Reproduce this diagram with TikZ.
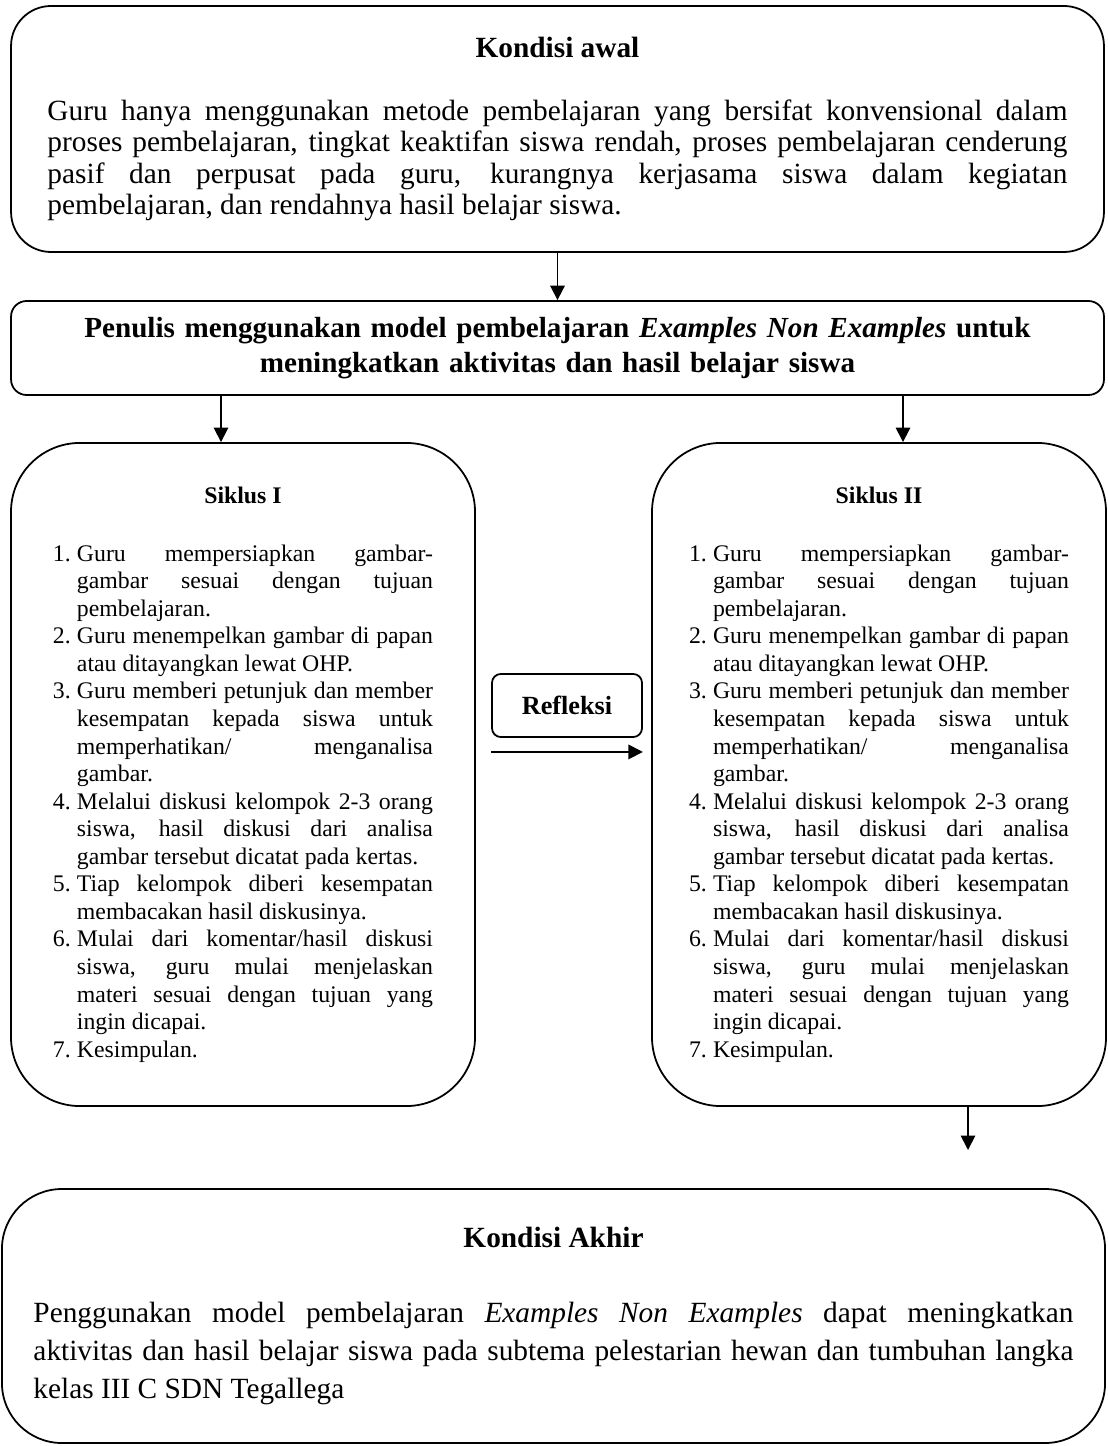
\documentclass[tikz,border=0pt]{standalone}
\usepackage{fontspec}
\setmainfont{Liberation Serif}
\usetikzlibrary{arrows.meta}
\newcommand{\butir}[1]{\par\noindent\hangindent=10.8pt\hangafter=1\makebox[10.8pt][l]{#1}}
\newcommand{\langkah}{%
  \butir{1.}Guru mempersiapkan gambar-\linebreak gambar sesuai dengan tujuan\linebreak pembelajaran.
  \butir{2.}Guru menempelkan gambar di papan\linebreak atau ditayangkan lewat OHP.
  \butir{3.}Guru memberi petunjuk dan member\linebreak kesempatan kepada siswa untuk\linebreak memperhatikan/ menganalisa\linebreak gambar.
  \butir{4.}Melalui diskusi kelompok 2-3 orang\linebreak siswa, hasil diskusi dari analisa\linebreak gambar tersebut dicatat pada kertas.
  \butir{5.}Tiap kelompok diberi kesempatan\linebreak membacakan hasil diskusinya.
  \butir{6.}Mulai dari komentar/hasil diskusi\linebreak siswa, guru mulai menjelaskan\linebreak materi sesuai dengan tujuan yang\linebreak ingin dicapai.
  \butir{7.}Kesimpulan.\par}

\begin{document}
\begin{tikzpicture}[x=0.45pt,y=-0.45pt,line width=0.8pt,>={Triangle[length=6.5pt,width=6.5pt]}]
  \useasboundingbox (0,0) rectangle (1107,1446);
  \node[draw,rounded corners=18pt,minimum width=491.8pt,minimum height=110.7pt,text width=459pt,inner sep=0pt,align=justify,font={\fontsize{13.2}{14}\selectfont}] (awal) at (557.5,129)
    {{\centering\bfseries Kondisi awal\par}\vspace{14.3pt}Guru hanya menggunakan metode pembelajaran yang bersifat konvensional dalam\linebreak proses pembelajaran, tingkat keaktifan siswa rendah, proses pembelajaran cenderung\linebreak pasif dan perpusat pada guru, kurangnya kerjasama siswa dalam kegiatan\linebreak pembelajaran, dan rendahnya hasil belajar siswa.\par};
  \node[draw,rounded corners=7pt,minimum width=491.8pt,minimum height=42.3pt,text width=459pt,inner sep=0pt,align=center,font={\fontsize{13.1}{15.75}\selectfont\bfseries}] (penulis) at (557.5,348)
    {Penulis menggunakan model pembelajaran \textit{Examples Non Examples} untuk\\ meningkatkan aktivitas dan hasil belajar siswa};
  \foreach \nama/\x/\lebar/\judul in {siklus1/243/208.8pt/I,siklus2/879/204.3pt/II}{
    \node[draw,rounded corners=31pt,minimum width=\lebar,minimum height=298.4pt,text width=171pt,inner sep=0pt,align=justify,font={\fontsize{10.7}{12.4}\selectfont}] (\nama) at (\x,774.5)
      {{\centering\bfseries Siklus \judul\par}\vspace{13.7pt}\langkah};
  }
  \node[draw,rounded corners=4pt,minimum width=67.5pt,minimum height=28.4pt,inner sep=0pt,font={\fontsize{11.8}{14}\selectfont\bfseries}] (refleksi) at (567,705.5) {Refleksi};
  \node[draw,rounded corners=27pt,minimum width=496.4pt,minimum height=114.3pt,text width=468pt,inner sep=0pt,align=justify,font={\fontsize{13.2}{17.1}\selectfont}] (akhir) at (553.5,1316)
    {{\centering\bfseries Kondisi Akhir\par}\vspace{16.6pt}Penggunakan model pembelajaran \textit{Examples Non Examples} dapat meningkatkan\linebreak aktivitas dan hasil belajar siswa pada subtema pelestarian hewan dan tumbuhan langka\linebreak kelas III C SDN Tegallega\par\vspace{6pt}};
  % panah antar kotak
  \coordinate (kiri) at (221,0);
  \coordinate (kanan) at (903,0);
  \coordinate (ujung) at (968,1150);
  \draw[->] (awal.south) -- (penulis.north);
  \draw[->] (penulis.south -| kiri) -- (siklus1.north -| kiri);
  \draw[->] (penulis.south -| kanan) -- (siklus2.north -| kanan);
  \draw[->] ([yshift=-6.3pt]refleksi.south west) -- ([yshift=-6.3pt]refleksi.south east);
  \draw[->] (siklus2.south -| ujung) -- (ujung);
\end{tikzpicture}
\end{document}
